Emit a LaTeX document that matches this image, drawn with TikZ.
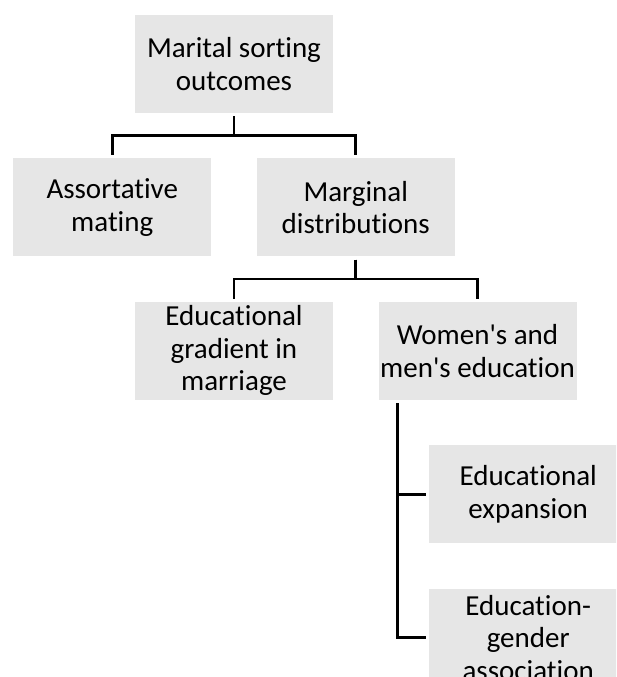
\documentclass[tikz,border=0pt]{standalone}
\usepackage{fontspec}
\setmainfont{Carlito}[Ligatures=NoCommon]
\usepackage{xcolor}
\usetikzlibrary{positioning,calc}
\definecolor{boxgray}{RGB}{230,230,230}

\begin{document}
\begin{tikzpicture}[
  x=1pt, y=1pt,
  font=\fontsize{29}{32.5}\selectfont, node distance=45pt,
  topic/.style={fill=boxgray, minimum width=198pt, minimum height=98pt, inner sep=0pt, align=center},
  link/.style={line width=2.6pt, shorten <=3pt, shorten >=3pt}
]
  \useasboundingbox (0,0) rectangle (616,-677);
  \clip (0,0) rectangle (616,-677);

  \node[topic]                                  (mso) at (234,-64) {Marital sorting\\outcomes};
  \node[topic, below=of mso, xshift=-121.75pt]  (am)  {Assortative\\mating};
  \node[topic, below=of mso, xshift=121.75pt]   (md)  {Marginal\\distributions};
  \node[topic, below=of md, xshift=-121.75pt]   (eg)  {Educational\\gradient in\\marriage};
  \node[topic, below=of md, xshift=121.75pt]    (wm)  {Women\textquotesingle s and\\men\textquotesingle s education};
  \node[topic, below=of wm, xshift=50.7pt]      (ee)  {Educational\\expansion};
  \node[topic, below=of ee]                     (ega) {Education-\\gender\\association};

  \foreach \a/\b in {mso/am, mso/md, md/eg, md/wm}{
    \draw[link] (\a.south) -- ($(\a.south)!.5!(\a.south|-\b.north)$) -| (\b.north);
  }
  \foreach \b in {ee, ega}{
    \draw[link] ([xshift=19pt]wm.south west) |- (\b.west);
  }
\end{tikzpicture}
\end{document}
